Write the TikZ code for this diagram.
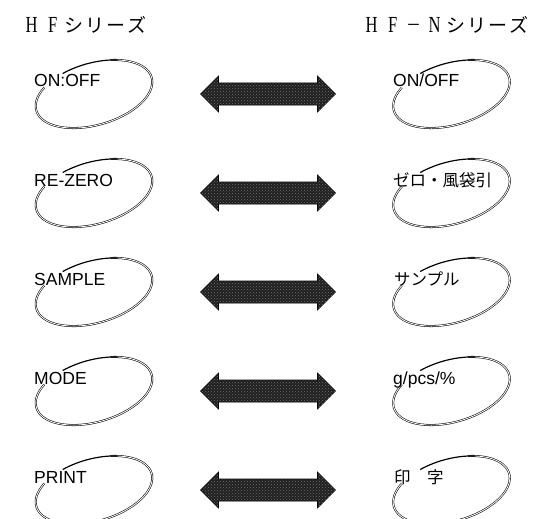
\documentclass[tikz,border=0pt]{standalone}
\usepackage{graphicx}
\usepackage{fontspec}
\setmainfont{Liberation Sans}
\newfontfamily\jpfont{Noto Sans CJK JP}
\newfontfamily\titleserif{Liberation Serif}
\usetikzlibrary{patterns}
\newcommand\tl[1]{\makebox[21pt]{\titleserif\fontsize{23}{23}\selectfont\scalebox{0.72}[1]{#1}}}
\newcommand\tm{\makebox[21pt]{\titleserif\fontsize{23}{23}\selectfont −}}
\newcommand\tk[1]{\makebox[21pt]{\jpfont\fontsize{19}{19}\selectfont #1}}
\newcommand\arrshape{(-67.5,0) -- (-49.5,18) -- (-49.5,11) -- (49.5,11) -- (49.5,18) -- (67.5,0) -- (49.5,-18) -- (49.5,-11) -- (-49.5,-11) -- (-49.5,-18) -- cycle}
\newcommand\keyring[2]{%
  \begin{scope}[shift={(#1,#2)},rotate=16]
    \draw[ring] (140:60 and 31) arc[start angle=140,end angle=425,x radius=60,y radius=31];
    \draw[ringtop] (418:60 and 31) arc[start angle=418,end angle=474,x radius=60,y radius=31];
  \end{scope}}
\tikzset{
  lbl/.style={anchor=base west, inner sep=0pt, font=\fontsize{17.5}{17.5}\selectfont},
  jlbl/.style={anchor=base west, inner sep=0pt, font=\jpfont\fontsize{16.5}{16.5}\selectfont},
  ttl/.style={anchor=base west, inner sep=0pt},
  ring/.style={line width=0.55pt, double=white, double distance=0.85pt},
  ringtop/.style={line width=1.2pt},
  dblarr/.pic={
    \path[fill=black!88, draw=black, line width=0.6pt] \arrshape;
    \path[pattern=crosshatch dots, pattern color=black!55] \arrshape;
  }
}
\begin{document}
\begin{tikzpicture}[x=1pt,y=1pt]
\useasboundingbox (0,0) rectangle (541,-519);
\clip (0,0) rectangle (541,-519);
% titles
\node[ttl] (t1) at (21,-33) {\tl{H}\tl{F}\tk{シ}\tk{リ}\tk{ー}\tk{ズ}};
\node[ttl] (t2) at (361,-33) {\tl{H}\tl{F}\tm\tl{N}\tk{シ}\tk{リ}\tk{ー}\tk{ズ}};
% key rings
\keyring{94}{-94}
\keyring{94}{-193}
\keyring{94}{-292}
\keyring{94}{-391}
\keyring{94}{-490}
\keyring{451.5}{-94}
\keyring{451.5}{-193}
\keyring{451.5}{-292}
\keyring{451.5}{-391}
\keyring{451.5}{-490}
% labels left
\node[lbl] (l1) at (34,-87) {ON:OFF};
\node[lbl] (l2) at (34,-186) {RE-ZERO};
\node[lbl] (l3) at (34,-285) {SAMPLE};
\node[lbl] (l4) at (34,-384) {MODE};
\node[lbl] (l5) at (34,-483) {PRINT};
% labels right
\node[lbl] (r1) at (393,-87) {ON/OFF};
\node[jlbl] (r2) at (393,-186) {ゼロ・風袋引};
\node[jlbl] (r3) at (394,-285) {サンプル};
\node[lbl] (r4) at (393,-384) {g/pcs/\%};
\node[jlbl] (r5) at (394,-483) {印　字};
% arrows
\pic (a1) at (268,-94) {dblarr};
\pic (a2) at (268,-193) {dblarr};
\pic (a3) at (268,-292) {dblarr};
\pic (a4) at (268,-391) {dblarr};
\pic (a5) at (268,-490) {dblarr};
\end{tikzpicture}
\end{document}
